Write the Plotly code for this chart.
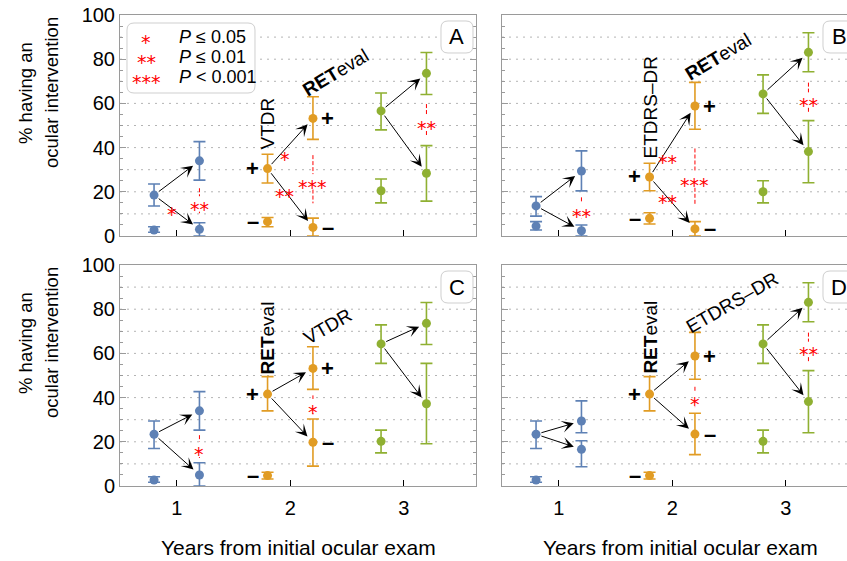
import plotly.graph_objects as go

W, H = 847, 561
FONT = "Liberation Sans, Arial, sans-serif"
STAR_FONT = "DejaVu Sans, sans-serif"

# ---------------- data ----------------
year_ticks = [1, 2, 3]
x_first = [0.8, 1.8, 2.8]    # group at exam before the test split
x_second = [1.2, 2.2, 3.2]   # groups after the split (+ / -)
group_colors = ["#5E81B5", "#E19C24", "#8FB032"]

# rows: blue, orange, green ; cols: [origin, other, positive, negative]
A_mean = [[18.5, 2.7, 34.0, 3.0], [30.5, 6.5, 53.2, 3.9], [56.6, 20.5, 73.6, 28.4]]
A_high = [[23.5, 4.2, 42.7, 6.0], [37.0, 8.4, 63.0, 8.1], [64.7, 25.8, 83.0, 40.9]]
A_low = [[13.6, 1.7, 25.3, 0.0], [24.0, 4.2, 43.7, 0.0], [48.0, 15.0, 64.0, 15.8]]

B_mean = [[13.6, 4.5, 29.4, 2.4], [26.7, 8.0, 58.8, 3.2], [64.3, 20.0, 83.1, 38.2]]
B_high = [[17.8, 6.5, 38.5, 5.0], [32.9, 10.5, 69.5, 6.5], [72.9, 25.0, 92.0, 52.2]]
B_low = [[9.0, 2.7, 20.4, 0.0], [20.5, 5.4, 48.3, 0.0], [55.5, 15.0, 74.3, 24.1]]

C_mean = [[23.4, 2.7, 34.0, 5.0], [41.6, 4.7, 53.2, 19.8], [64.3, 20.2, 73.6, 37.2]]
C_high = [[29.4, 4.2, 42.7, 10.5], [49.5, 6.2, 63.0, 30.3], [72.9, 25.3, 83.0, 55.5]]
C_low = [[17.0, 1.7, 25.3, 0.0], [34.0, 3.2, 43.7, 9.0], [55.5, 15.0, 64.0, 19.1]]

D_mean = [[23.4, 2.7, 29.4, 16.6], [41.6, 4.7, 58.8, 23.5], [64.3, 20.2, 83.1, 38.2]]
D_high = [[29.4, 4.2, 38.5, 20.5], [49.5, 6.2, 69.5, 32.9], [72.9, 25.3, 92.0, 52.2]]
D_low = [[17.0, 1.7, 24.1, 8.7], [34.0, 3.2, 48.3, 14.2], [55.5, 15.0, 74.3, 24.1]]

# significance marks: (x, y, n_stars, line_top, line_bottom)
A_sig = [(0.955, 12.2, 1, None, None), (1.2, 14.5, 2, 21.6, 10.3), (1.955, 37.0, 1, None, None),
         (1.95, 20.5, 2, None, None), (2.2, 24.5, 3, 36.6, 14.8), (3.2, 51.0, 2, 59.7, 45.0)]
B_sig = [(1.2, 11.4, 2, 17.5, 8.0), (1.96, 35.9, 2, None, None), (1.96, 17.5, 2, None, None),
         (2.2, 25.3, 3, 39.6, 14.5), (3.2, 61.5, 2, 69.4, 56.2)]
C_sig = [(1.2, 16.6, 1, 23.0, 12.7), (2.2, 35.9, 1, 41.0, 33.0)]
D_sig = [(2.2, 39.2, 1, 44.9, 35.9), (3.2, 61.8, 2, 69.4, 56.2)]

# test labels: (text, x, y, angle)
A_labels = [("VTDR", 1.8, 50.7, -90), ("<b>RET</b>eval", 2.40, 74.2, -31)]
B_labels = [("ETDRS\u2013DR", 1.81, 58.0, -90), ("<b>RET</b>eval", 2.41, 81.0, -31)]
C_labels = [("<b>RET</b>eval", 1.8, 67.0, -90), ("VTDR", 2.33, 72.0, -30)]
D_labels = [("<b>RET</b>eval", 1.8, 67.4, -90), ("ETDRS\u2013DR", 2.53, 83.0, -30)]

panel_letters = ["A", "B", "C", "D"]
legend_labels = ["<i>P</i> \u2264 0.05", "<i>P</i> \u2264 0.01", "<i>P</i> < 0.001"]
y_title_lines = ["% having an", "ocular intervention"]
x_title = "Years from initial ocular exam"

# ---------------- layout geometry (pixels) ----------------
PX_PER_YEAR = 113.5
px_x = [(120, 476), (502, 847), (120, 476), (502, 847)]
px_y = [(15, 236), (15, 236), (265, 486), (265, 486)]

means = [A_mean, B_mean, C_mean, D_mean]
highs = [A_high, B_high, C_high, D_high]
lows = [A_low, B_low, C_low, D_low]
sigs = [A_sig, B_sig, C_sig, D_sig]
labels = [A_labels, B_labels, C_labels, D_labels]

fig = go.Figure()
annotations = []
shapes = []
AX_COL = "#9a9a9a"
STAR_SIZE = 19
STAR_SHIFT = -5


def paper(x, y):
    return f"{x / W:.5f},{1 - y / H:.5f}"


def rrect(x0, y0, x1, y1, r):
    return ("M" + paper(x0 + r, y0) + " L" + paper(x1 - r, y0) + " Q" + paper(x1, y0) + " " + paper(x1, y0 + r)
            + " L" + paper(x1, y1 - r) + " Q" + paper(x1, y1) + " " + paper(x1 - r, y1)
            + " L" + paper(x0 + r, y1) + " Q" + paper(x0, y1) + " " + paper(x0, y1 - r)
            + " L" + paper(x0, y0 + r) + " Q" + paper(x0, y0) + " " + paper(x0 + r, y0) + " Z")


def stars(n):
    return "*" * n


def pnote(px, py, text, size, xanchor="center", **kw):
    return dict(x=px / W, y=1 - py / H, xref="paper", yref="paper", text=text, showarrow=False,
                xanchor=xanchor, yanchor="middle", font=dict(size=size, color=kw.pop("color", "black"),
                                                             family=kw.pop("family", FONT)), **kw)


for p in range(4):
    n = p + 1
    xa = "x" if n == 1 else f"x{n}"
    ya = "y" if n == 1 else f"y{n}"
    (l, r), (t, b) = px_x[p], px_y[p]
    xr = [0.5, 0.5 + (r - l) / PX_PER_YEAR]
    left_col = p in (0, 2)
    bottom_row = p in (2, 3)
    fig.layout[f"xaxis{'' if n == 1 else n}"] = dict(
        domain=[l / W, r / W], range=xr, anchor=ya, tickvals=year_ticks,
        ticks="inside", ticklen=6, tickcolor="black", showline=True, linecolor=AX_COL,
        mirror=True, showgrid=False, zeroline=False, showticklabels=bottom_row, ticklabelstandoff=4,
        tickfont=dict(size=20, color="black", family=FONT))
    fig.layout[f"yaxis{'' if n == 1 else n}"] = dict(
        domain=[1 - b / H, 1 - t / H], range=[0, 100], anchor=xa, tickvals=[0, 20, 40, 60, 80, 100],
        ticks="inside", ticklen=6, tickcolor=AX_COL, showline=True, linecolor=AX_COL,
        mirror="ticks" if left_col else False, showgrid=False, zeroline=False,
        showticklabels=left_col, tickfont=dict(size=20, color="black", family=FONT),
        minor=dict(dtick=5, ticks="inside", ticklen=3, tickcolor=AX_COL, showgrid=False))

    # dotted grid
    for g in range(10, 100, 10):
        shapes.append(dict(type="line", xref=f"{xa} domain", yref=ya, x0=0, x1=1, y0=g, y1=g,
                           line=dict(color="#b4b4b4", width=1, dash="2px,5px"), layer="below"))

    # points with error bars
    for c in range(3):
        xs = [x_first[c], x_first[c], x_second[c], x_second[c]]
        ys = means[p][c]
        up = [h - m for h, m in zip(highs[p][c], ys)]
        dn = [m - lo for m, lo in zip(ys, lows[p][c])]
        fig.add_trace(go.Scatter(
            x=xs, y=ys, mode="markers", xaxis=xa, yaxis=ya, showlegend=False,
            marker=dict(color=group_colors[c], size=9),
            error_y=dict(type="data", symmetric=False, array=up, arrayminus=dn,
                         color=group_colors[c], thickness=1.6, width=6)))
        # arrows origin -> positive / negative
        for k in (2, 3):
            annotations.append(dict(
                x=x_second[c], y=ys[k], ax=x_first[c], ay=ys[0], xref=xa, yref=ya, axref=xa, ayref=ya,
                text="", showarrow=True, arrowhead=3, arrowsize=2, arrowwidth=1, arrowcolor="black",
                standoff=8, startstandoff=4))
        if c == 1:
            for k, sign, dx in ((0, "+", -0.13), (1, "\u2013", -0.13), (2, "+", 0.13), (3, "\u2013", 0.13)):
                xx = x_first[c] if k < 2 else x_second[c]
                annotations.append(dict(x=xx + dx, y=ys[k], xref=xa, yref=ya, text=f"<b>{sign}</b>",
                                        showarrow=False, font=dict(size=22, color="black", family=FONT)))

    # significance
    for (sx, sy, ns, lt, lb) in sigs[p]:
        annotations.append(dict(x=sx, y=sy, xref=xa, yref=ya, text=stars(ns), showarrow=False,
                                yshift=STAR_SHIFT, font=dict(size=STAR_SIZE, color="red", family=STAR_FONT)))
        if lt is not None:
            gap = 3.5
            for y0, y1 in ((lt, sy + gap), (sy - gap, lb)):
                shapes.append(dict(type="line", xref=xa, yref=ya, x0=sx, x1=sx, y0=y0, y1=y1,
                                   line=dict(color="red", width=1, dash="4px,2px")))

    # test labels
    for (txt, lx, ly, ang) in labels[p]:
        annotations.append(dict(x=lx, y=ly, xref=xa, yref=ya, text=txt, textangle=ang, showarrow=False,
                                font=dict(size=19, color="black", family=FONT)))

    # panel letter box
    bx1 = (l + 356) - 3
    shapes.append(dict(type="path", xref="paper", yref="paper", path=rrect(bx1 - 32, t + 6, bx1, t + 38, 7),
                       line=dict(color="#cfcfcf", width=1), fillcolor="white"))
    annotations.append(pnote(bx1 - 16, t + 22, panel_letters[p], 22))

    if left_col:
        for j, line in enumerate(y_title_lines):
            annotations.append(pnote(25 + 26 * j, t + 78, line, 18.5, textangle=-90))
    if bottom_row:
        annotations.append(pnote(l + 178, 547, x_title, 21))

# legend box in panel A
shapes.append(dict(type="path", xref="paper", yref="paper", path=rrect(127, 23, 255, 93, 7),
                   line=dict(color="#cfcfcf", width=1), fillcolor="white"))
for i, lab in enumerate(legend_labels):
    yy = 37 + 20 * i
    annotations.append(pnote(146, yy, stars(i + 1), STAR_SIZE, yshift=STAR_SHIFT, color="red", family=STAR_FONT))
    annotations.append(pnote(177, yy, lab, 18, xanchor="left"))

fig.update_layout(width=W, height=H, margin=dict(l=0, r=0, t=0, b=0, autoexpand=False),
                  plot_bgcolor="white", paper_bgcolor="white", annotations=annotations, shapes=shapes,
                  font=dict(family=FONT, color="black"))
fig.write_html("out.html", config={"displayModeBar": False},
               post_script="document.body.style.margin='0';document.body.style.overflow='hidden';")
